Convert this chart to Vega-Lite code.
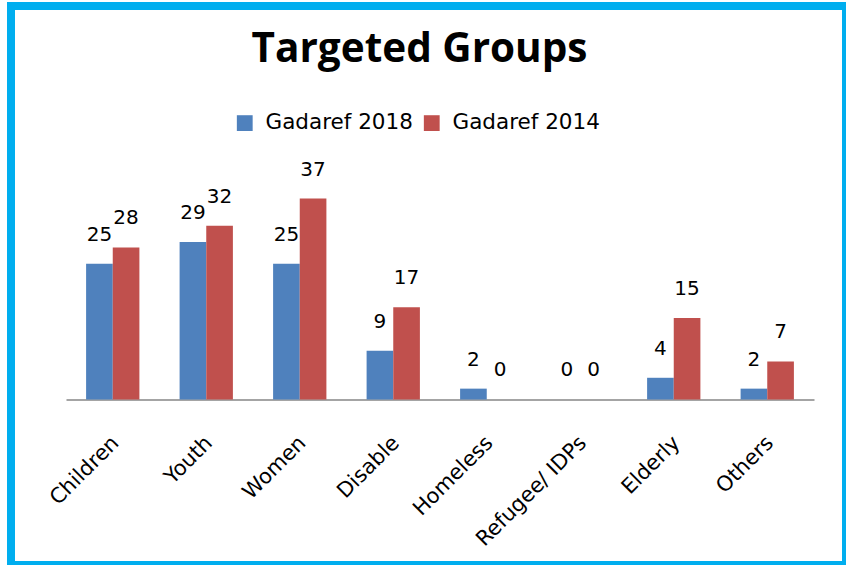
{
  "$schema": "https://vega.github.io/schema/vega-lite/v6.json",
  "width": 835,
  "height": 559,
  "autosize": "none",
  "padding": {"left": 11, "top": 6, "right": 0, "bottom": 0},
  "background": "white",
  "config": {"view": {"stroke": "#00aeef", "strokeWidth": 8, "fill": "white"}},
  "title": {
    "text": "Targeted Groups",
    "font": "Open Sans",
    "fontSize": 40.5,
    "fontWeight": "bold",
    "color": "black",
    "anchor": "middle",
    "frame": "group",
    "baseline": "alphabetic",
    "offset": -96,
    "dx": -9
  },
  "data": {
    "values": [
      {"group": "Children", "series": "Gadaref 2018", "value": 25},
      {"group": "Children", "series": "Gadaref 2014", "value": 28},
      {"group": "Youth", "series": "Gadaref 2018", "value": 29},
      {"group": "Youth", "series": "Gadaref 2014", "value": 32},
      {"group": "Women", "series": "Gadaref 2018", "value": 25},
      {"group": "Women", "series": "Gadaref 2014", "value": 37},
      {"group": "Disable", "series": "Gadaref 2018", "value": 9},
      {"group": "Disable", "series": "Gadaref 2014", "value": 17},
      {"group": "Homeless", "series": "Gadaref 2018", "value": 2},
      {"group": "Homeless", "series": "Gadaref 2014", "value": 0},
      {"group": "Refugee/ IDPs", "series": "Gadaref 2018", "value": 0},
      {"group": "Refugee/ IDPs", "series": "Gadaref 2014", "value": 0},
      {"group": "Elderly", "series": "Gadaref 2018", "value": 4},
      {"group": "Elderly", "series": "Gadaref 2014", "value": 15},
      {"group": "Others", "series": "Gadaref 2018", "value": 2},
      {"group": "Others", "series": "Gadaref 2014", "value": 7}
    ]
  },
  "encoding": {
    "x": {
      "field": "group",
      "type": "nominal",
      "sort": null,
      "scale": {"range": [55, 803], "paddingInner": 0.43, "paddingOuter": 0.215},
      "axis": {
        "title": null,
        "orient": "bottom",
        "offset": -165.5,
        "domainColor": "#868686",
        "domainWidth": 1.5,
        "ticks": false,
        "grid": false,
        "labelAngle": -45,
        "labelAlign": "right",
        "labelBaseline": "middle",
        "labelFont": "DejaVu Sans",
        "labelFontSize": 21,
        "labelColor": "black",
        "labelPadding": 40,
        "labelOffset": 3,
        "labelOverlap": false,
        "labelBound": false
      }
    },
    "xOffset": {
      "field": "series",
      "type": "nominal",
      "sort": ["Gadaref 2018", "Gadaref 2014"],
      "scale": {"paddingInner": 0, "paddingOuter": 0}
    },
    "y": {
      "field": "value",
      "type": "quantitative",
      "scale": {"domain": [-30.48, 72.47], "nice": false, "zero": false},
      "axis": null
    }
  },
  "layer": [
    {
      "mark": {"type": "bar"},
      "encoding": {
        "y2": {"datum": 0},
        "color": {
          "field": "series",
          "type": "nominal",
          "scale": {"domain": ["Gadaref 2018", "Gadaref 2014"], "range": ["#4f81bd", "#c0504d"]},
          "legend": {
            "title": null,
            "orient": "none",
            "legendX": 223,
            "legendY": 106,
            "direction": "horizontal",
            "symbolType": "square",
            "symbolSize": 250,
            "symbolStrokeWidth": 0,
            "labelFont": "DejaVu Sans",
            "labelFontSize": 21.5,
            "labelColor": "black",
            "labelOffset": 10,
            "columnPadding": 8
          }
        }
      }
    },
    {
      "mark": {"type": "text", "baseline": "alphabetic", "dy": -23, "font": "DejaVu Sans", "fontSize": 20, "color": "black"},
      "encoding": {"text": {"field": "value", "type": "quantitative"}}
    }
  ]
}
